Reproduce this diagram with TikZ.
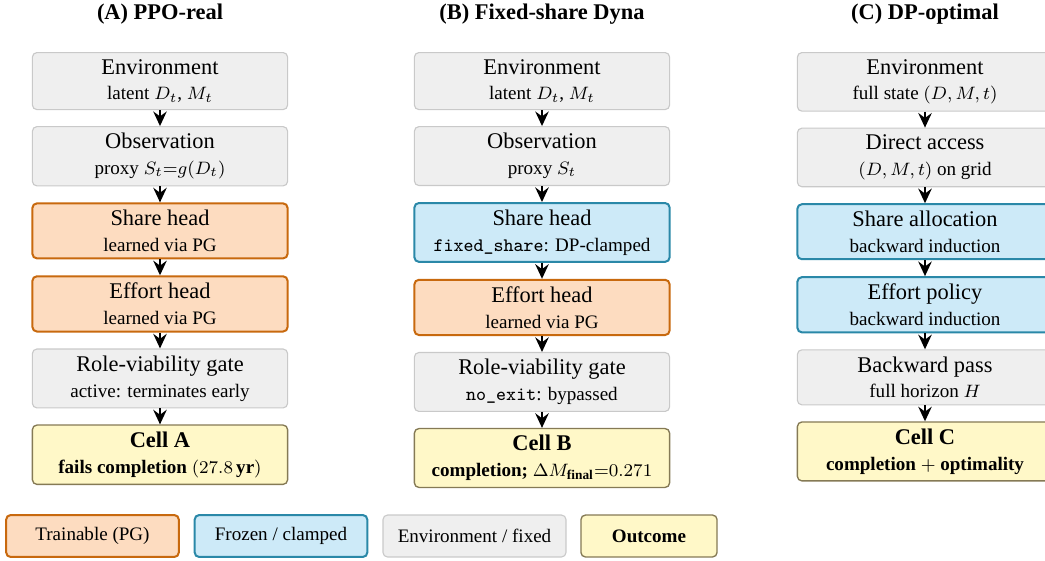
\documentclass[tikz,border=0pt]{standalone}
\usepackage[no-math]{fontspec}
\setmainfont{Liberation Serif}
\usepackage{amsmath}
\usepackage{tikz}
\usetikzlibrary{arrows.meta,positioning}
\definecolor{turuncuDolgu}{HTML}{FDDCC0}
\definecolor{turuncuKenar}{HTML}{C8690E}
\definecolor{maviDolgu}{HTML}{CDEAF8}
\definecolor{maviKenar}{HTML}{2A88A8}
\definecolor{griDolgu}{HTML}{EFEFEF}
\definecolor{griKenar}{HTML}{C9C9C9}
\definecolor{sariDolgu}{HTML}{FFF8C8}
\definecolor{sariKenar}{HTML}{857A55}
\newcommand{\altSatir}{\fontsize{8.5}{10}\selectfont}

\begin{document}
\begin{tikzpicture}[x=0.446pt,y=-0.446pt,node distance=7.1pt,
  kutu/.style={rounded corners=2pt,align=center,minimum width=4cm,inner sep=3pt,font=\fontsize{10}{11.5}\selectfont},
  egitilir/.style={kutu,fill=turuncuDolgu,draw=turuncuKenar,line width=0.9pt},
  donuk/.style={kutu,fill=maviDolgu,draw=maviKenar,line width=0.9pt},
  sabit/.style={kutu,fill=griDolgu,draw=griKenar,line width=0.5pt},
  sonuc/.style={kutu,fill=sariDolgu,draw=sariKenar,line width=0.6pt},
  lejant/.style={minimum width=77pt,minimum height=18.7pt,font=\altSatir},
  baslik/.style={font=\fontsize{10}{12}\selectfont\bfseries},
  ok/.style={-{Stealth[length=6.5pt,width=6pt,inset=2.2pt]},line width=1pt}]
\useasboundingbox (0,0) rectangle (1045,560);

\node[baslik] (baslikA) at (160,14) {(A) PPO-real};
\node[sabit,anchor=north] (ortamA) at (160,52) {Environment\\{\altSatir latent $D_t$, $M_t$}};
\node[sabit,below=of ortamA] (gozlemA) {Observation\\{\altSatir proxy $S_t{=}g(D_t)$}};
\node[egitilir,below=of gozlemA] (payA) {Share head\\{\altSatir learned via PG}};
\node[egitilir,below=of payA] (emekA) {Effort head\\{\altSatir learned via PG}};
\node[sabit,below=of emekA] (kapiA) {Role-viability gate\\{\altSatir active: terminates early}};
\node[sonuc,below=of kapiA] (hucreA) {\textbf{Cell A}\\{\altSatir\bfseries fails completion $(27.8\,\text{yr})$}};

\node[baslik] (baslikB) at (542,14) {(B) Fixed-share Dyna};
\node[sabit,anchor=north] (ortamB) at (542,52) {Environment\\{\altSatir latent $D_t$, $M_t$}};
\node[sabit,below=of ortamB] (gozlemB) {Observation\\{\altSatir proxy $S_t$}};
\node[donuk,below=of gozlemB] (payB) {Share head\\{\altSatir\texttt{fixed\_share}: DP-clamped}};
\node[egitilir,below=of payB] (emekB) {Effort head\\{\altSatir learned via PG}};
\node[sabit,below=of emekB] (kapiB) {Role-viability gate\\{\altSatir\texttt{no\_exit}: bypassed}};
\node[sonuc,below=of kapiB] (hucreB) {\textbf{Cell B}\\{\altSatir\bfseries completion; $\Delta M_{\text{final}}{=}0.271$}};

\node[baslik] (baslikC) at (925,14) {(C) DP-optimal};
\node[sabit,anchor=north] (ortamC) at (925,52) {Environment\\{\altSatir full state $(D, M, t)$}};
\node[sabit,below=of ortamC] (gozlemC) {Direct access\\{\altSatir $(D, M, t)$ on grid}};
\node[donuk,below=of gozlemC] (payC) {Share allocation\\{\altSatir backward induction}};
\node[donuk,below=of payC] (emekC) {Effort policy\\{\altSatir backward induction}};
\node[sabit,below=of emekC] (kapiC) {Backward pass\\{\altSatir full horizon $H$}};
\node[sonuc,below=of kapiC] (hucreC) {\textbf{Cell C}\\{\altSatir\bfseries completion $+$ optimality}};

\foreach \s in {A,B,C}
  \foreach \a/\b in {ortam/gozlem,gozlem/pay,pay/emek,emek/kapi,kapi/hucre}
    \draw[ok] (\a\s) -- (\b\s);

\node[egitilir,lejant] (lejantEgitilir) at (92.5,536) {Trainable (PG)};
\node[donuk,lejant] (lejantDonuk) at (281,536) {Frozen / clamped};
\node[sabit,lejant,minimum width=81.6pt] (lejantSabit) at (474.5,536) {Environment / fixed};
\node[sonuc,lejant,minimum width=60.7pt] (lejantSonuc) at (649,536) {\textbf{Outcome}};
\end{tikzpicture}
\end{document}
